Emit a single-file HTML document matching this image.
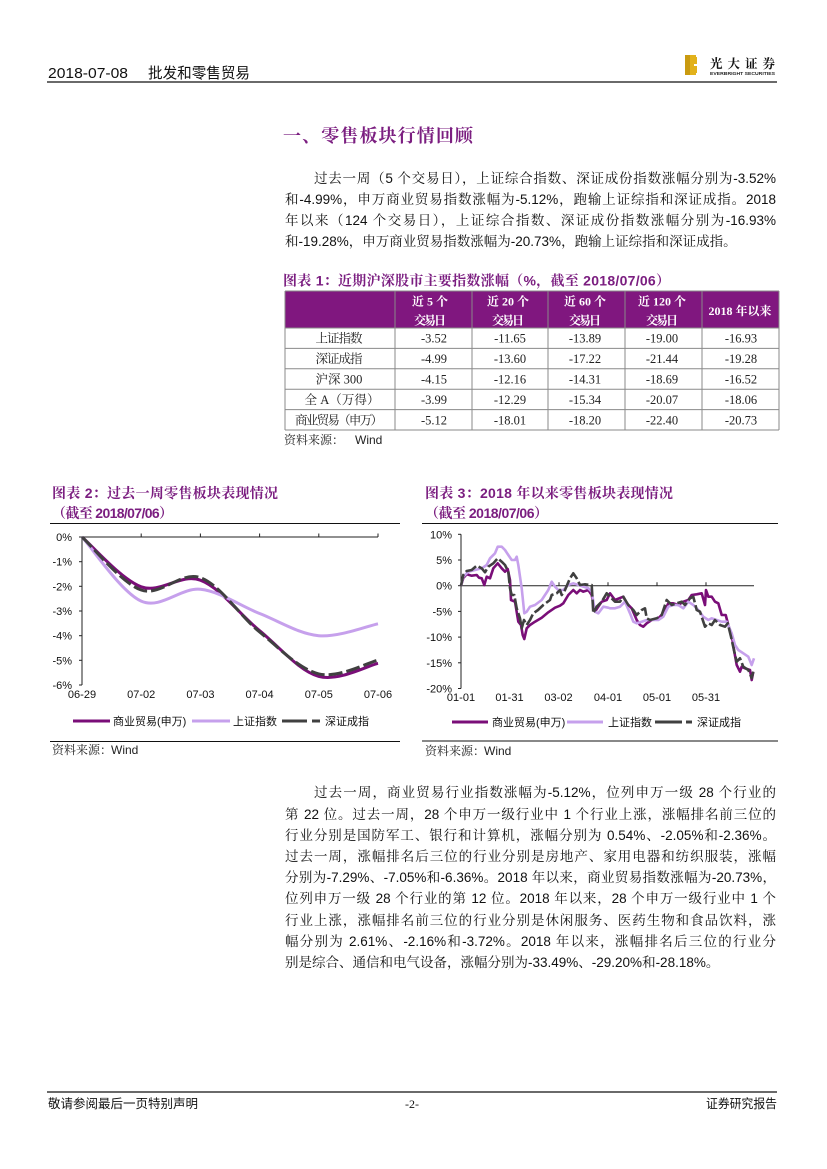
<!DOCTYPE html>
<html lang="zh-CN">
<head>
<meta charset="utf-8">
<style>
  html,body{margin:0;padding:0;background:#fff;}
  body{width:827px;height:1169px;position:relative;overflow:hidden;}
  svg.page{position:absolute;left:0;top:0;}
  .para{position:absolute;left:285px;width:491px;font-family:"Liberation Sans","Noto Serif CJK SC",serif;font-size:13.5px;line-height:21.2px;color:#111;}
  .para div{height:21.2px;text-align:justify;text-align-last:justify;white-space:nowrap;}
  .para div.last{text-align-last:left;}
  .para div.ind{padding-left:29px;}
</style>
</head>
<body>
<svg class="page" width="827" height="1169" viewBox="0 0 827 1169" xmlns="http://www.w3.org/2000/svg">
  <!-- Header -->
  <text x="48" y="78" font-family="Liberation Sans, sans-serif" font-size="15" fill="#111" textLength="80" lengthAdjust="spacingAndGlyphs">2018-07-08</text>
  <text x="148" y="78" font-family="Liberation Sans, Noto Sans CJK SC, sans-serif" font-size="15" fill="#111" textLength="102" lengthAdjust="spacingAndGlyphs">批发和零售贸易</text>
  <line x1="47" y1="82" x2="777" y2="82" stroke="#111" stroke-width="1.3"/>
  <!-- logo -->
  <rect x="685" y="55" width="12" height="20" fill="#E2B21C"/>
  <rect x="685" y="55" width="5" height="20" fill="#C99A10"/>
  <rect x="694" y="64" width="3" height="2" fill="#fff"/>
  <rect x="696" y="55" width="1" height="2" fill="#fff"/>
  <rect x="696" y="73" width="1" height="2" fill="#fff"/>
  <text x="710" y="68" font-family="Noto Serif CJK SC, serif" font-weight="bold" font-size="12.5" fill="#111" textLength="65" lengthAdjust="spacing">光大证券</text>
  <text x="710" y="75" font-family="Liberation Sans, sans-serif" font-weight="bold" font-size="4.5" fill="#222" textLength="65" lengthAdjust="spacingAndGlyphs">EVERBRIGHT SECURITIES</text>

  <!-- Section title -->
  <text x="283" y="142" font-family="Noto Serif CJK SC, serif" font-weight="bold" font-size="18" fill="#7B1E80" textLength="190" lengthAdjust="spacing">一、零售板块行情回顾</text>

  <!-- Table title -->
  <text x="283" y="285.5" font-family="Liberation Sans, Noto Serif CJK SC, serif" font-weight="bold" font-size="14" fill="#7B1E80" textLength="387" lengthAdjust="spacing">图表 1：近期沪深股市主要指数涨幅（%，截至 2018/07/06）</text>

  <!-- Table -->
  <rect x="285" y="291" width="494" height="37" fill="#80177F"/>
  <g stroke="#8a8a8a" stroke-width="1">
    <line x1="285" y1="291" x2="779" y2="291"/>
    <line x1="285" y1="328" x2="779" y2="328"/>
    <line x1="285" y1="348.4" x2="779" y2="348.4"/>
    <line x1="285" y1="368.8" x2="779" y2="368.8"/>
    <line x1="285" y1="389.2" x2="779" y2="389.2"/>
    <line x1="285" y1="409.6" x2="779" y2="409.6"/>
    <line x1="285" y1="430" x2="779" y2="430"/>
    <line x1="285" y1="291" x2="285" y2="430"/>
    <line x1="395" y1="291" x2="395" y2="430"/>
    <line x1="472" y1="291" x2="472" y2="430"/>
    <line x1="548" y1="291" x2="548" y2="430"/>
    <line x1="625" y1="291" x2="625" y2="430"/>
    <line x1="702" y1="291" x2="702" y2="430"/>
    <line x1="779" y1="291" x2="779" y2="430"/>
  </g>
  <g font-family="Liberation Serif, Noto Serif CJK SC, serif" font-weight="bold" font-size="12" fill="#fff" text-anchor="middle">
    <text x="430" y="305.5">近 5 个</text>
    <text x="430" y="324.5" textLength="32" lengthAdjust="spacing">交易日</text>
    <text x="508" y="305.5">近 20 个</text>
    <text x="508" y="324.5" textLength="32" lengthAdjust="spacing">交易日</text>
    <text x="585" y="305.5">近 60 个</text>
    <text x="585" y="324.5" textLength="32" lengthAdjust="spacing">交易日</text>
    <text x="662" y="305.5">近 120 个</text>
    <text x="662" y="324.5" textLength="32" lengthAdjust="spacing">交易日</text>
    <text x="740" y="315">2018 年以来</text>
  </g>
  <g font-family="Liberation Serif, Noto Serif CJK SC, serif" font-size="12.5" fill="#222" text-anchor="middle">
    <text x="339" y="342.7" textLength="47" lengthAdjust="spacing">上证指数</text>
    <text x="339" y="363.1" textLength="47" lengthAdjust="spacing">深证成指</text>
    <text x="339" y="383.5">沪深 300</text>
    <text x="342" y="403.9" textLength="75" lengthAdjust="spacing">全 A（万得）</text>
    <text x="339" y="424.3" textLength="88" lengthAdjust="spacing">商业贸易（申万）</text>

    <text x="434" y="342.7">-3.52</text><text x="510" y="342.7">-11.65</text><text x="585" y="342.7">-13.89</text><text x="662" y="342.7">-19.00</text><text x="741" y="342.7">-16.93</text>
    <text x="434" y="363.1">-4.99</text><text x="510" y="363.1">-13.60</text><text x="585" y="363.1">-17.22</text><text x="662" y="363.1">-21.44</text><text x="741" y="363.1">-19.28</text>
    <text x="434" y="383.5">-4.15</text><text x="510" y="383.5">-12.16</text><text x="585" y="383.5">-14.31</text><text x="662" y="383.5">-18.69</text><text x="741" y="383.5">-16.52</text>
    <text x="434" y="403.9">-3.99</text><text x="510" y="403.9">-12.29</text><text x="585" y="403.9">-15.34</text><text x="662" y="403.9">-20.07</text><text x="741" y="403.9">-18.06</text>
    <text x="434" y="424.3">-5.12</text><text x="510" y="424.3">-18.01</text><text x="585" y="424.3">-18.20</text><text x="662" y="424.3">-22.40</text><text x="741" y="424.3">-20.73</text>
  </g>
  <text x="284" y="444" font-family="Noto Serif CJK SC, serif" font-size="12" fill="#222">资料来源：</text>
  <text x="355" y="444" font-family="Liberation Sans, sans-serif" font-size="12" fill="#222">Wind</text>

  <!-- ============ Chart 2 ============ -->
  <text x="52" y="498" font-family="Liberation Sans, Noto Serif CJK SC, serif" font-weight="bold" font-size="14" fill="#7B1E80" textLength="226" lengthAdjust="spacing">图表 2：过去一周零售板块表现情况</text>
  <text x="52" y="518" font-family="Liberation Sans, Noto Serif CJK SC, serif" font-weight="bold" font-size="14" fill="#7B1E80" textLength="121" lengthAdjust="spacing">（截至 2018/07/06）</text>
  <line x1="50" y1="523.5" x2="400" y2="523.5" stroke="#111" stroke-width="1"/>

  <g stroke="#222" stroke-width="1">
    <line x1="82" y1="537" x2="82" y2="685"/>
    <line x1="82" y1="537" x2="378" y2="537"/>
    <line x1="79" y1="537" x2="82" y2="537"/>
    <line x1="79" y1="561.7" x2="82" y2="561.7"/>
    <line x1="79" y1="586.3" x2="82" y2="586.3"/>
    <line x1="79" y1="611" x2="82" y2="611"/>
    <line x1="79" y1="635.7" x2="82" y2="635.7"/>
    <line x1="79" y1="660.3" x2="82" y2="660.3"/>
    <line x1="79" y1="685" x2="82" y2="685"/>
    <line x1="141.2" y1="533.5" x2="141.2" y2="537"/>
    <line x1="200.4" y1="533.5" x2="200.4" y2="537"/>
    <line x1="259.6" y1="533.5" x2="259.6" y2="537"/>
    <line x1="318.8" y1="533.5" x2="318.8" y2="537"/>
    <line x1="378" y1="533.5" x2="378" y2="537"/>
  </g>
  <g font-family="Liberation Sans, sans-serif" font-size="11" fill="#111" text-anchor="end">
    <text x="72" y="541">0%</text>
    <text x="72" y="565.7">-1%</text>
    <text x="72" y="590.3">-2%</text>
    <text x="72" y="615">-3%</text>
    <text x="72" y="639.7">-4%</text>
    <text x="72" y="664.3">-5%</text>
    <text x="72" y="689">-6%</text>
  </g>
  <g font-family="Liberation Sans, sans-serif" font-size="11" fill="#111" text-anchor="middle">
    <text x="82" y="698">06-29</text>
    <text x="141.2" y="698">07-02</text>
    <text x="200.4" y="698">07-03</text>
    <text x="259.6" y="698">07-04</text>
    <text x="318.8" y="698">07-05</text>
    <text x="378" y="698">07-06</text>
  </g>
  <g fill="none" stroke-width="3" stroke-linecap="butt">
    <path d="M82,537 C91.87,545.3 121.47,579.6 141.2,586.8 C160.93,594 180.67,572.88 200.4,580.2 C220.13,587.52 239.87,614.67 259.6,630.7 C279.33,646.73 299.07,670.97 318.8,676.4 C338.53,681.83 368.13,665.48 378,663.3" stroke="#7A0E78"/>
    <path d="M82,537 C91.87,547.68 121.47,592.38 141.2,601.1 C160.93,609.82 180.67,587.23 200.4,589.3 C220.13,591.37 239.87,605.77 259.6,613.5 C279.33,621.23 299.07,633.98 318.8,635.7 C338.53,637.42 368.13,625.78 378,623.8" stroke="#C6A0EC"/>
    <path d="M82,537 C91.87,545.83 121.47,583.22 141.2,590 C160.93,596.78 180.67,570.7 200.4,577.7 C220.13,584.7 239.87,615.97 259.6,632 C279.33,648.03 299.07,669.22 318.8,673.9 C338.53,678.58 368.13,662.4 378,660.1" stroke="#404040" stroke-dasharray="14 4"/>
  </g>
  <!-- legend 2 -->
  <line x1="73" y1="721" x2="110" y2="721" stroke="#7A0E78" stroke-width="3"/>
  <text x="113" y="725" font-family="Liberation Sans, Noto Sans CJK SC, sans-serif" font-size="11" fill="#111">商业贸易(申万)</text>
  <line x1="192" y1="721" x2="230" y2="721" stroke="#C6A0EC" stroke-width="3"/>
  <text x="233" y="725" font-family="Liberation Sans, Noto Sans CJK SC, sans-serif" font-size="11" fill="#111">上证指数</text>
  <line x1="282" y1="721" x2="307" y2="721" stroke="#404040" stroke-width="3"/>
  <line x1="312" y1="721" x2="320" y2="721" stroke="#404040" stroke-width="3"/>
  <text x="325" y="725" font-family="Liberation Sans, Noto Sans CJK SC, sans-serif" font-size="11" fill="#111">深证成指</text>
  <line x1="50" y1="741.5" x2="400" y2="741.5" stroke="#111" stroke-width="1"/>
  <text x="52" y="754" font-family="Noto Serif CJK SC, serif" font-size="12" fill="#222">资料来源：</text>
  <text x="111" y="754" font-family="Liberation Sans, sans-serif" font-size="12" fill="#222">Wind</text>

  <!-- ============ Chart 3 ============ -->
  <text x="425" y="498" font-family="Liberation Sans, Noto Serif CJK SC, serif" font-weight="bold" font-size="14" fill="#7B1E80" textLength="248" lengthAdjust="spacing">图表 3：2018 年以来零售板块表现情况</text>
  <text x="425" y="518" font-family="Liberation Sans, Noto Serif CJK SC, serif" font-weight="bold" font-size="14" fill="#7B1E80" textLength="123" lengthAdjust="spacing">（截至 2018/07/06）</text>
  <line x1="422" y1="523.5" x2="778" y2="523.5" stroke="#111" stroke-width="1"/>

  <g stroke="#222" stroke-width="1">
    <line x1="461" y1="534.3" x2="461" y2="688.5"/>
    <line x1="461" y1="585.7" x2="754" y2="585.7"/>
    <line x1="458" y1="534.3" x2="461" y2="534.3"/>
    <line x1="458" y1="560" x2="461" y2="560"/>
    <line x1="458" y1="585.7" x2="461" y2="585.7"/>
    <line x1="458" y1="611.4" x2="461" y2="611.4"/>
    <line x1="458" y1="637.1" x2="461" y2="637.1"/>
    <line x1="458" y1="662.8" x2="461" y2="662.8"/>
    <line x1="458" y1="688.5" x2="461" y2="688.5"/>
    <line x1="510" y1="582.2" x2="510" y2="585.7"/>
    <line x1="559" y1="582.2" x2="559" y2="585.7"/>
    <line x1="608" y1="582.2" x2="608" y2="585.7"/>
    <line x1="657" y1="582.2" x2="657" y2="585.7"/>
    <line x1="706" y1="582.2" x2="706" y2="585.7"/>
  </g>
  <g font-family="Liberation Sans, sans-serif" font-size="11" fill="#111" text-anchor="end">
    <text x="452" y="538.3">10%</text>
    <text x="452" y="564">5%</text>
    <text x="452" y="589.7">0%</text>
    <text x="452" y="615.4">-5%</text>
    <text x="452" y="641.1">-10%</text>
    <text x="452" y="666.8">-15%</text>
    <text x="452" y="692.5">-20%</text>
  </g>
  <g font-family="Liberation Sans, sans-serif" font-size="11" fill="#111" text-anchor="middle">
    <text x="461" y="701">01-01</text>
    <text x="509.5" y="701">01-31</text>
    <text x="558.5" y="701">03-02</text>
    <text x="608" y="701">04-01</text>
    <text x="657" y="701">05-01</text>
    <text x="706" y="701">05-31</text>
  </g>
  <g fill="none" stroke-width="2.6" stroke-linejoin="round">
    <polyline stroke="#7A0E78" points="461,585.7 463.3,578 466.7,574.3 471.7,575.7 476.7,575 479,577.7 481.7,578.3 484.3,585 486.7,576.7 490,578.3 493.3,568.3 497.7,563.3 501.7,568.3 505,571.7 507.7,569 510,580 511,600 515,601.7 518.3,621.7 521,625 522.7,635 524.3,639 526.7,628.3 530,625 535,621.7 541.7,617.7 548.3,612.3 555,607.7 560,605.7 563.3,603.3 568.3,595 573.3,590 576.7,593.3 580,590 583.3,591.7 588.3,590 591.7,595 595,611.7 598.3,606.7 601.7,601.7 606.7,600 610,593.3 615,600 623.3,596.7 626.7,603.3 631.7,608.3 636.7,620 640,625 643.3,626.7 646.7,623.3 651.7,620 658.3,618.3 663.3,613.3 668.3,603.3 673.3,603.3 678.3,605 683.3,601.7 688.3,600 691.7,595 696.7,594.3 701.7,593.3 705,605 706,590 708.3,596.7 711.7,596.7 715,601.7 718.3,603.3 721.7,615 725.7,615 728.3,625 731.7,635 734.3,651.7 736.7,665 740,671.7 741.7,666.7 745,668.3 750,670 751.7,680 753.3,671.7"/>
    <polyline stroke="#C6A0EC" points="461,585.7 463.3,576.7 468.3,571.7 475,570 481.7,568.3 486.7,565 490,558.3 495,553.3 497.7,546.7 501.7,546.7 505,550 508.3,555 511.7,560 515,560 516.7,556.7 518.3,565 521.7,588.3 524.3,613.3 526.7,611.7 530,606.7 535,605 541.7,600 548.3,590 551.7,581.7 555,586.7 558.3,590 563.3,590 568.3,585 573.3,583.3 578.3,585 583.3,586.7 588.3,588.3 591.7,591.7 595,611.7 598.3,613.3 603.3,606.7 608.3,607.7 610,608.3 615,608.3 620,606.7 625,601.7 630,613.3 633.3,621.7 636.7,623.3 641.7,621.7 646.7,620 651.7,620 658.3,620 663.3,616.7 668.3,606.7 673.3,605 678.3,605 683.3,608.3 688.3,601.7 693.3,605 698.3,610 703.3,616.7 708.3,620 711.7,618.3 716.7,620 721.7,621.7 726.7,621.7 731.7,633.3 735,645 738.3,650 743.3,653.3 748.3,656.7 751.7,665 754,658.3"/>
    <polyline stroke="#404040" stroke-dasharray="12 3" points="461,585.7 463.3,575 466.7,571 471.7,570 476.7,565.7 481.7,568.3 485,572.3 488.3,566.7 493.3,563.3 497.7,558.3 501.7,561.7 505,565 508.3,571.7 510,588.3 511.7,595 514.3,595 516.7,608.3 520,618.3 521.7,628.3 524,620 526.7,625 530,620 533.3,613.3 538,610 543.3,605 550,600 551.7,595 556.7,593.3 560,590 561.7,595 565,590 570,578.3 573.3,573.3 576.7,578.3 580,585 585,584.3 590,585 591.7,585 593.3,613.3 596.7,606.7 601.7,601.7 606.7,593.3 610,596.7 615,601.7 620,601.7 623.3,596.7 628.3,605 633.3,610 636.7,615 641.7,610 645,608.3 646.7,618.3 650,620 656.7,618.3 661.7,615 666.7,600 671.7,605 676.7,603.3 681.7,601.7 685,605 690,598.3 693.3,596.7 696.7,610 700,611.7 703.3,621.7 705,626.7 708.3,623.3 711.7,625 715,620 720,625 725,626.7 727.7,623.3 731,636.7 734.3,651.7 736.7,661.7 740,658.3 743.3,666.7 748.3,670 751.7,678 753.3,671.7"/>
  </g>
  <!-- legend 3 -->
  <line x1="452" y1="722" x2="488" y2="722" stroke="#7A0E78" stroke-width="3"/>
  <text x="492" y="726" font-family="Liberation Sans, Noto Sans CJK SC, sans-serif" font-size="11" fill="#111">商业贸易(申万)</text>
  <line x1="567" y1="722" x2="603" y2="722" stroke="#C6A0EC" stroke-width="3"/>
  <text x="608" y="726" font-family="Liberation Sans, Noto Sans CJK SC, sans-serif" font-size="11" fill="#111">上证指数</text>
  <line x1="655" y1="722" x2="682" y2="722" stroke="#404040" stroke-width="3"/>
  <line x1="686" y1="722" x2="692" y2="722" stroke="#404040" stroke-width="3"/>
  <text x="697" y="726" font-family="Liberation Sans, Noto Sans CJK SC, sans-serif" font-size="11" fill="#111">深证成指</text>
  <line x1="422" y1="741" x2="778" y2="741" stroke="#111" stroke-width="1"/>
  <text x="425" y="755" font-family="Noto Serif CJK SC, serif" font-size="12" fill="#222">资料来源：</text>
  <text x="484" y="755" font-family="Liberation Sans, sans-serif" font-size="12" fill="#222">Wind</text>

  <!-- Footer -->
  <line x1="47" y1="1092" x2="777" y2="1092" stroke="#111" stroke-width="1.2"/>
  <text x="48" y="1108" font-family="Liberation Sans, Noto Sans CJK SC, sans-serif" font-size="12.5" fill="#111" textLength="150" lengthAdjust="spacingAndGlyphs">敬请参阅最后一页特别声明</text>
  <text x="412" y="1108" font-family="Liberation Serif, serif" font-size="12" fill="#111" text-anchor="middle">-2-</text>
  <text x="706" y="1108" font-family="Liberation Sans, Noto Sans CJK SC, sans-serif" font-size="12.5" fill="#111" textLength="71" lengthAdjust="spacingAndGlyphs">证券研究报告</text>
</svg>

<div class="para" style="top:167.7px;">
  <div class="ind">过去一周（5 个交易日），上证综合指数、深证成份指数涨幅分别为-3.52%</div>
  <div>和-4.99%，申万商业贸易指数涨幅为-5.12%，跑输上证综指和深证成指。2018</div>
  <div>年以来（124 个交易日），上证综合指数、深证成份指数涨幅分别为-16.93%</div>
  <div class="last">和-19.28%，申万商业贸易指数涨幅为-20.73%，跑输上证综指和深证成指。</div>
</div>

<div class="para" style="top:782.4px;">
  <div class="ind">过去一周，商业贸易行业指数涨幅为-5.12%，位列申万一级 28 个行业的</div>
  <div>第 22 位。过去一周，28 个申万一级行业中 1 个行业上涨，涨幅排名前三位的</div>
  <div>行业分别是国防军工、银行和计算机，涨幅分别为 0.54%、-2.05%和-2.36%。</div>
  <div>过去一周，涨幅排名后三位的行业分别是房地产、家用电器和纺织服装，涨幅</div>
  <div>分别为-7.29%、-7.05%和-6.36%。2018 年以来，商业贸易指数涨幅为-20.73%，</div>
  <div>位列申万一级 28 个行业的第 12 位。2018 年以来，28 个申万一级行业中 1 个</div>
  <div>行业上涨，涨幅排名前三位的行业分别是休闲服务、医药生物和食品饮料，涨</div>
  <div>幅分别为 2.61%、-2.16%和-3.72%。2018 年以来，涨幅排名后三位的行业分</div>
  <div class="last">别是综合、通信和电气设备，涨幅分别为-33.49%、-29.20%和-28.18%。</div>
</div>
</body>
</html>
